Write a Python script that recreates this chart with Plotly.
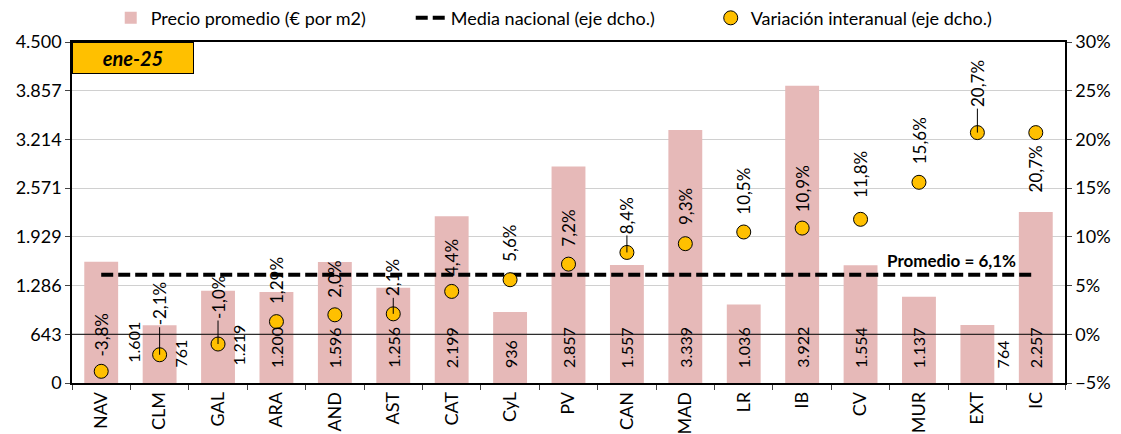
import plotly.graph_objects as go

# datos ene-25
regiones = ["NAV", "CLM", "GAL", "ARA", "AND", "AST", "CAT", "CyL", "PV", "CAN",
            "MAD", "LR", "IB", "CV", "MUR", "EXT", "IC"]
precio = [1601, 761, 1219, 1200, 1596, 1256, 2199, 936, 2857, 1557,
          3339, 1036, 3922, 1554, 1137, 764, 2257]
variacion = [-3.8, -2.1, -1.0, 1.3, 2.0, 2.1, 4.4, 5.6, 7.2, 8.4,
             9.3, 10.5, 10.9, 11.8, 15.6, 20.7, 20.7]
var_labels = ["-3,8%", "-2,1%", "-1,0%", "1,29%", "2,0%", "2,1%", "4,4%", "5,6%", "7,2%", "8,4%",
              "9,3%", "10,5%", "10,9%", "11,8%", "15,6%", "20,7%", "20,7%"]
precio_labels = ["1.601", "761", "1.219", "1.200", "1.596", "1.256", "2.199", "936", "2.857", "1.557",
                 "3.339", "1.036", "3.922", "1.554", "1.137", "764", "2.257"]
media = 6.1

# desplazamientos manuales de etiquetas (como en el excel)
pct_offset = [-37, -51, -47, -41, -36, -36, -34, -36, -36, -37, -37, -41, -39, -45, -42, -49, 36]
pct_leader = [False, True, True, False, False, True, False, False, False, True,
              False, False, False, False, False, True, False]
bar_xshift = [32, 20, 20, 0, 0, 0, 0, 0, 0, 0, 0, 0, 0, 0, 0, 25, 0]
bar_yshift = [18, 13, 15, 13, 13, 13, 13, 13, 13, 13, 13, 13, 13, 13, 13, 13, 13]

FONT = "Lato"
fig = go.Figure()

fig.add_trace(go.Bar(x=regiones, y=precio, name="Precio promedio (€ por m2)",
                     marker=dict(color="#E6B9B8", line=dict(width=0)), yaxis="y"))
fig.add_trace(go.Scatter(x=regiones, y=[media] * len(regiones), mode="lines",
                         name="Media nacional (eje dcho.)", yaxis="y2",
                         line=dict(color="black", width=4, dash="12px,5px")))
fig.add_trace(go.Scatter(x=regiones, y=variacion, mode="markers",
                         name="Variación interanual (eje dcho.)", yaxis="y2",
                         marker=dict(color="#FFC000", size=14, line=dict(color="black", width=1))))

ann = []
for i, r in enumerate(regiones):
    ann.append(dict(x=r, y=0, xref="x", yref="y", text=precio_labels[i], showarrow=False,
                    textangle=-90, yanchor="bottom", xanchor="center",
                    xshift=bar_xshift[i], yshift=bar_yshift[i],
                    font=dict(family=FONT, size=16, color="black")))
    ann.append(dict(x=r, y=variacion[i], xref="x", yref="y2", text=var_labels[i],
                    showarrow=True, arrowhead=0, arrowwidth=1, standoff=0,
                    arrowcolor="black" if pct_leader[i] else "rgba(0,0,0,0)",
                    ax=0, ay=pct_offset[i], textangle=-90,
                    font=dict(family=FONT, size=17, color="black")))

ann.append(dict(x=14.55, y=media, xref="x", yref="y2", text="<b>Promedio = 6,1%</b>",
                showarrow=False, yanchor="bottom", yshift=2,
                font=dict(family=FONT, size=17, color="black")))
ann.append(dict(x=0, y=1, xref="paper", yref="paper", text="<b><i>ene-25</i></b>",
                showarrow=False, xanchor="left", yanchor="top", width=118, height=28,
                bgcolor="#FFC000", bordercolor="black", borderwidth=1, borderpad=1,
                font=dict(family=FONT, size=20, color="black")))

# la pagina tiene 8px de margen en el body
fig.update_layout(
    width=1113, height=426,
    margin=dict(l=64, r=56, t=34, b=51, autoexpand=False),
    paper_bgcolor="white", plot_bgcolor="white",
    separators=",.",
    font=dict(family=FONT, size=18, color="black"),
    bargap=0.42,
    showlegend=True,
    legend=dict(orientation="h", x=0.039, y=1.07, xanchor="left", yanchor="middle",
                font=dict(family=FONT, size=18), entrywidth=255, bgcolor="rgba(0,0,0,0)"),
    xaxis=dict(type="category", range=[-0.5, len(regiones) - 0.5],
               showline=True, linecolor="black", linewidth=1.5, mirror=True,
               ticks="outside", ticklen=5, tickson="boundaries", tickangle=-90,
               tickfont=dict(size=18), showgrid=False),
    yaxis=dict(range=[0, 4500], dtick=4500 / 7, tick0=0, tickformat=",.0f",
               showline=True, linecolor="black", linewidth=1.5, ticks="outside", ticklen=5,
               gridcolor="#D0D0D0", gridwidth=1, zeroline=False, tickfont=dict(size=18)),
    yaxis2=dict(range=[-5, 30], dtick=5, tick0=0, ticksuffix="%", overlaying="y", side="right",
                showline=True, linecolor="black", linewidth=1.5, ticks="outside", ticklen=5,
                showgrid=False, zeroline=False, tickfont=dict(size=18)),
    annotations=ann,
    shapes=[dict(type="line", xref="paper", x0=0, x1=1, yref="y2", y0=0, y1=0,
                 line=dict(color="black", width=1), layer="above")],
)

fig.write_html("out.html")
